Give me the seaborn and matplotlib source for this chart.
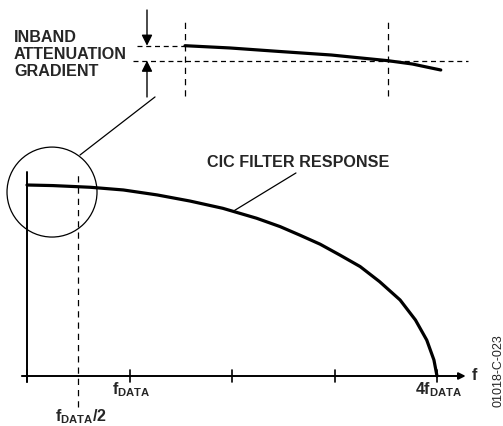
import numpy as np
import pandas as pd
import matplotlib
matplotlib.use("Agg")
import matplotlib.pyplot as plt
from matplotlib.patches import Ellipse
import seaborn as sns

# main CIC response (f in units of fDATA, relative gain)
f_main = [0, 0.25, 0.5, 0.62, 0.94, 1.27, 1.59, 1.91, 2.24, 2.47, 2.66, 2.86, 3.05, 3.25,
          3.44, 3.64, 3.79, 3.9, 3.97, 4.0]
gain_main = [1.0, 0.997, 0.991, 0.988, 0.974, 0.948, 0.916, 0.878, 0.826, 0.782, 0.738, 0.69,
             0.634, 0.573, 0.494, 0.398, 0.293, 0.188, 0.084, 0.0]

# zoomed passband (inset)
f_inset = [0, 0.11, 0.23, 0.36, 0.5, 0.56, 0.6, 0.63]
gain_inset = [1.0, 0.9985, 0.9962, 0.9938, 0.9900, 0.9878, 0.9855, 0.9838]

tick_pos = [0, 1, 2, 3, 4]
inset_lines = ["INBAND", "ATTENUATION", "GRADIENT"]

sns.set_style("white")
plt.rcParams['font.family'] = ['Liberation Sans', 'DejaVu Sans']
plt.rcParams['font.weight'] = 'bold'
plt.rcParams['mathtext.fontset'] = 'custom'
plt.rcParams['mathtext.rm'] = 'Liberation Sans:bold'
plt.rcParams['mathtext.it'] = 'Liberation Sans:bold'
plt.rcParams['mathtext.bf'] = 'Liberation Sans:bold'

FS = 11.6

fig = plt.figure(figsize=(5.03, 4.26), dpi=100)
ax = fig.add_axes([0, 0, 1, 1])
ax.patch.set_alpha(0)
ins = fig.add_axes([0, 0, 1, 1])
ins.patch.set_alpha(0)

df = pd.DataFrame({"f": f_main, "gain": gain_main})
sns.lineplot(data=df, x="f", y="gain", ax=ax, color="black", linewidth=2.3, legend=False)

# axes drawn by hand, schematic style
ax.plot([0, 0], [-0.031, 1.068], color="black", lw=1.4)
ax.annotate("", xy=(4.28, 0), xytext=(-0.05, 0),
            arrowprops=dict(arrowstyle="-|>", color="black", lw=1.4, mutation_scale=10,
                            shrinkA=0, shrinkB=0))
for t in tick_pos:
    ax.plot([t, t], [-0.031, 0.031], color="black", lw=1.2)
ax.text(4.34, 0, "f", ha="left", va="center", fontsize=FS, fontweight="bold")

ax.plot([0.5, 0.5], [-0.162, 1.068], color="black", lw=0.9, ls=(0, (5, 4)))

ax.text(1.02, -0.025, r"$f_{DATA}$", ha="center", va="top", fontsize=FS)
ax.text(4.02, -0.025, r"$4f_{DATA}$", ha="center", va="top", fontsize=FS)
ax.text(0.527, -0.165, r"$f_{DATA}/2$", ha="center", va="top", fontsize=FS)

ax.text(1.756, 1.12, "CIC FILTER RESPONSE", ha="left", va="center", fontsize=FS, fontweight="bold")
ax.plot([2.624, 2.01], [1.063, 0.862], color="black", lw=0.9)

ax.add_patch(Ellipse((0.244, 0.963), 0.878, 0.471, fill=False, edgecolor="black", lw=0.9))
ax.plot([0.517, 1.249], [1.157, 1.461], color="black", lw=0.9)

for i, line in enumerate(inset_lines):
    ax.text(-0.127, (376 - 37 - 17.5 * i) / 191, line, ha="left", va="center",
            fontsize=FS, fontweight="bold")

ax.set_xlim(-27 / 102.5, 476 / 102.5)
ax.set_ylim(-50 / 191, 376 / 191)
ax.axis("off")

# inset: exaggerated passband droop
dfi = pd.DataFrame({"f": f_inset, "gain": gain_inset})
sns.lineplot(data=dfi, x="f", y="gain", ax=ins, color="black", linewidth=2.3, legend=False)
for fv in [0, 0.5]:
    ins.plot([fv, fv], [0.9665, 1.0158], color="black", lw=0.9, ls=(0, (5, 4)))
ins.plot([-0.118, 0], [1.0, 1.0], color="black", lw=0.9, ls=(0, (4, 3)))
ins.plot([-0.128, 0.697], [0.990, 0.990], color="black", lw=0.9, ls=(0, (4, 3)))
ins.annotate("", xy=(-0.0936, 1.0), xytext=(-0.0936, 1.0238),
             arrowprops=dict(arrowstyle="-|>", color="black", lw=1.0, mutation_scale=16,
                             shrinkA=0, shrinkB=0))
ins.annotate("", xy=(-0.0936, 0.990), xytext=(-0.0936, 0.9658),
             arrowprops=dict(arrowstyle="-|>", color="black", lw=1.0, mutation_scale=16,
                             shrinkA=0, shrinkB=0))
ins.set_xlim(-185 / 406, 318 / 406)
ins.set_ylim(1 - 380.3 / 1500, 1 + 45.7 / 1500)
ins.axis("off")

fig.text(0.991, 0.131, "01018-C-023", rotation=90, ha="center", va="center",
         fontsize=9, fontweight="normal")

fig.savefig("out.png", dpi=100)
